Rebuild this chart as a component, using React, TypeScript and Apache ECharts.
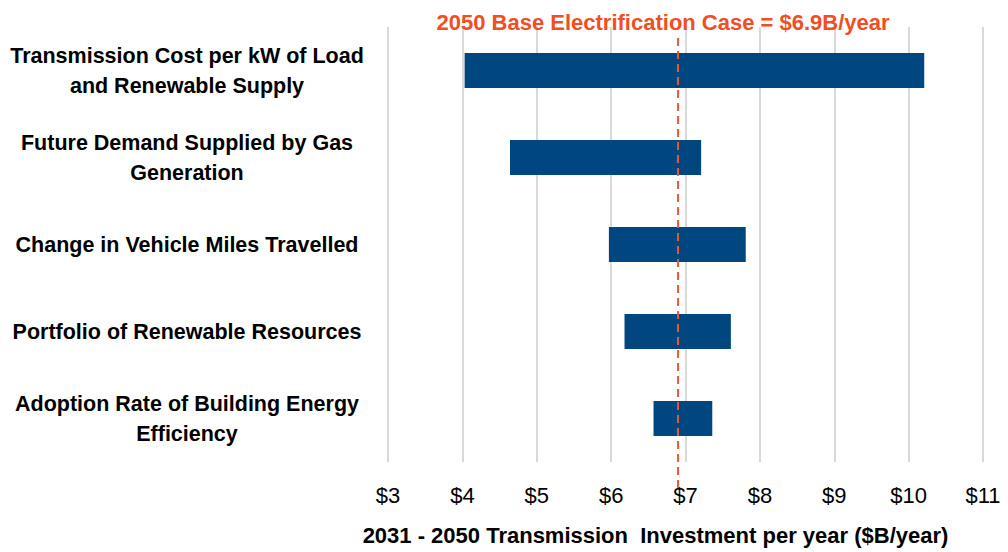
import React, { useEffect, useRef } from "react";
import * as echarts from "echarts";

const categories = [
  "Transmission Cost per kW of Load\nand Renewable Supply",
  "Future Demand Supplied by Gas\nGeneration",
  "Change in Vehicle Miles Travelled",
  "Portfolio of Renewable Resources",
  "Adoption Rate of Building Energy\nEfficiency",
];
const lowValues = [4.03, 4.64, 5.97, 6.18, 6.57];
const highValues = [10.21, 7.21, 7.81, 7.61, 7.36];
const baseCase = 6.9;
const axisMin = 3;
const axisMax = 11;
const axisStep = 1;
const baseLabel = "2050 Base Electrification Case = $6.9B/year";
const axisTitle = "2031 - 2050 Transmission  Investment per year ($B/year)";

const FONT = "'Liberation Sans', Arial, sans-serif";

export default function App() {
  const ref = useRef<HTMLDivElement>(null);
  useEffect(() => {
    document.body.style.margin = "0";
    if (!ref.current) return;
    const chart = echarts.init(ref.current, undefined, { renderer: "svg" });
    chart.setOption({
      animation: false,
      textStyle: { fontFamily: FONT },
      grid: { left: 388, right: 25, top: 27, bottom: 90, containLabel: false },
      xAxis: {
        type: "value",
        min: axisMin,
        max: axisMax,
        interval: axisStep,
        axisLine: { show: false },
        axisTick: { show: false },
        splitLine: { show: true, lineStyle: { color: "#D9D9D9", width: 2 } },
        axisLabel: {
          formatter: (v: number) => "$" + v,
          fontSize: 22,
          color: "#000",
          margin: 22,
          fontFamily: FONT,
        },
        name: axisTitle,
        nameLocation: "middle",
        nameGap: 62,
        nameTextStyle: {
          fontSize: 22,
          fontWeight: "bold",
          color: "#000",
          fontFamily: FONT,
          padding: [0, 60, 0, 0],
        },
      },
      yAxis: {
        type: "category",
        inverse: true,
        data: categories,
        axisLine: { show: false },
        axisTick: { show: false },
        splitLine: { show: false },
        axisLabel: {
          fontSize: 21.5,
          fontWeight: "bold",
          color: "#000",
          align: "center",
          margin: 201,
          lineHeight: 30,
          fontFamily: FONT,
        },
      },
      series: [
        {
          type: "bar",
          stack: "range",
          data: lowValues,
          barWidth: "40%",
          itemStyle: { color: "transparent" },
          silent: true,
        },
        {
          type: "bar",
          stack: "range",
          data: highValues.map((h, i) => +(h - lowValues[i]).toFixed(3)),
          barWidth: "40%",
          itemStyle: { color: "#00467F" },
        },
      ],
    });
    const x = chart.convertToPixel({ xAxisIndex: 0 }, baseCase) as number;
    chart.setOption({
      graphic: [
        {
          type: "line",
          z: 100,
          shape: { x1: x, y1: 38, x2: x, y2: 490 },
          style: { stroke: "#E8583A", lineWidth: 2, lineDash: [8, 5] },
        },
        {
          type: "text",
          z: 100,
          x: x - 15,
          y: 22,
          style: {
            text: baseLabel,
            fill: "#F04E23",
            fontSize: 22,
            fontWeight: "bold",
            fontFamily: FONT,
            align: "center",
            verticalAlign: "middle",
          },
        },
      ],
    });
    return () => chart.dispose();
  }, []);
  return <div ref={ref} style={{ width: 1008, height: 552 }} />;
}
